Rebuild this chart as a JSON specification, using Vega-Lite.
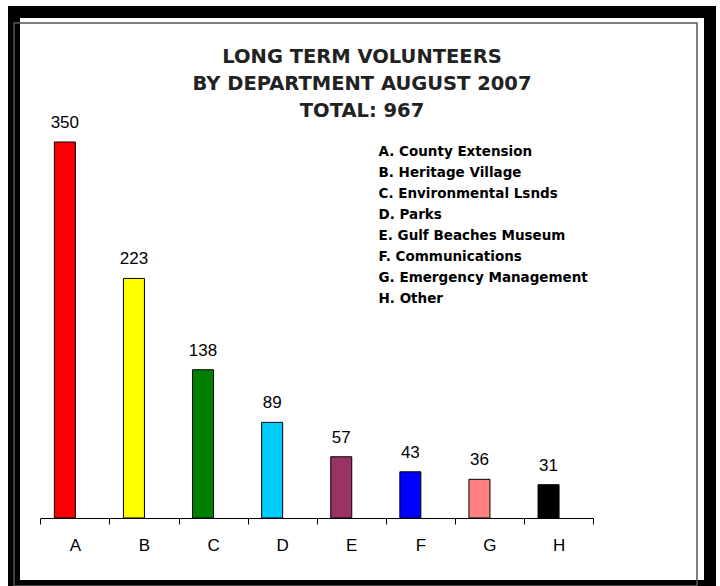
{
  "$schema": "https://vega.github.io/schema/vega-lite/v6.json",
  "width": 696,
  "height": 574,
  "autosize": {"type": "none"},
  "padding": {"left": 14, "top": 12, "right": 10, "bottom": 0},
  "background": "white",
  "title": {
    "text": ["LONG TERM VOLUNTEERS", "BY DEPARTMENT AUGUST 2007", "TOTAL: 967"],
    "font": "DejaVu Sans",
    "fontSize": 19.5,
    "fontWeight": "bold",
    "color": "#222222",
    "lineHeight": 27.3,
    "anchor": "middle",
    "frame": "group",
    "baseline": "top",
    "offset": -110
  },
  "data": {
    "values": [
      {"cat": "A", "label": "A. County Extension", "value": 350},
      {"cat": "B", "label": "B. Heritage Village", "value": 223},
      {"cat": "C", "label": "C. Environmental Lsnds", "value": 138},
      {"cat": "D", "label": "D. Parks", "value": 89},
      {"cat": "E", "label": "E. Gulf Beaches  Museum", "value": 57},
      {"cat": "F", "label": "F. Communications", "value": 43},
      {"cat": "G", "label": "G. Emergency Management", "value": 36},
      {"cat": "H", "label": "H. Other", "value": 31}
    ]
  },
  "layer": [
    {
      "data": {"values": [{"frame": 1}]},
      "mark": {"type": "rect", "filled": false, "stroke": "#555555", "strokeWidth": 1.5, "xOffset": -13, "x2Offset": 11, "yOffset": 11, "y2Offset": -10},
      "encoding": {}
    },
    {
      "mark": {"type": "bar", "width": 21, "xOffset": -10, "stroke": "black", "strokeWidth": 1},
      "encoding": {
        "x": {
          "field": "cat", "type": "nominal",
          "scale": {"range": [26.3, 579.1], "paddingInner": 0, "paddingOuter": 0},
          "axis": {"title": null, "labelAngle": 0, "offset": -68, "domainColor": "black", "domainWidth": 1, "tickColor": "black", "tickSize": 6, "tickBand": "extent", "labelFont": "Liberation Sans", "labelFontSize": 17, "labelColor": "black", "labelPadding": 21, "labelBaseline": "middle", "grid": false}
        },
        "y": {
          "field": "value", "type": "quantitative",
          "scale": {"domain": [0, 350], "range": [506, 130], "nice": false, "zero": true},
          "axis": null
        },
        "color": {
          "field": "label", "type": "nominal",
          "scale": {
            "domain": ["A. County Extension", "B. Heritage Village", "C. Environmental Lsnds", "D. Parks", "E. Gulf Beaches  Museum", "F. Communications", "G. Emergency Management", "H. Other"],
            "range": ["#FF0000", "#FFFF00", "#008000", "#00CCFF", "#993366", "#0000FF", "#FF8080", "#000000"]
          },
          "legend": {"orient": "none", "legendX": 351, "legendY": 133, "title": null, "labelFont": "DejaVu Sans", "labelFontWeight": "bold", "labelFontSize": 13.5, "labelColor": "black", "symbolSize": 0, "symbolOpacity": 0, "symbolStrokeWidth": 0, "labelOffset": 0, "rowPadding": 6.1, "padding": 0, "labelLimit": 0}
        }
      }
    },
    {
      "mark": {"type": "text", "xOffset": -10, "dy": -14, "baseline": "alphabetic", "font": "Liberation Sans", "fontSize": 17, "color": "black"},
      "encoding": {
        "x": {"field": "cat", "type": "nominal"},
        "y": {"field": "value", "type": "quantitative"},
        "text": {"field": "value", "type": "quantitative"}
      }
    }
  ],
  "config": {
    "view": {"stroke": "black", "strokeWidth": 12, "fill": "white"}
  }
}
